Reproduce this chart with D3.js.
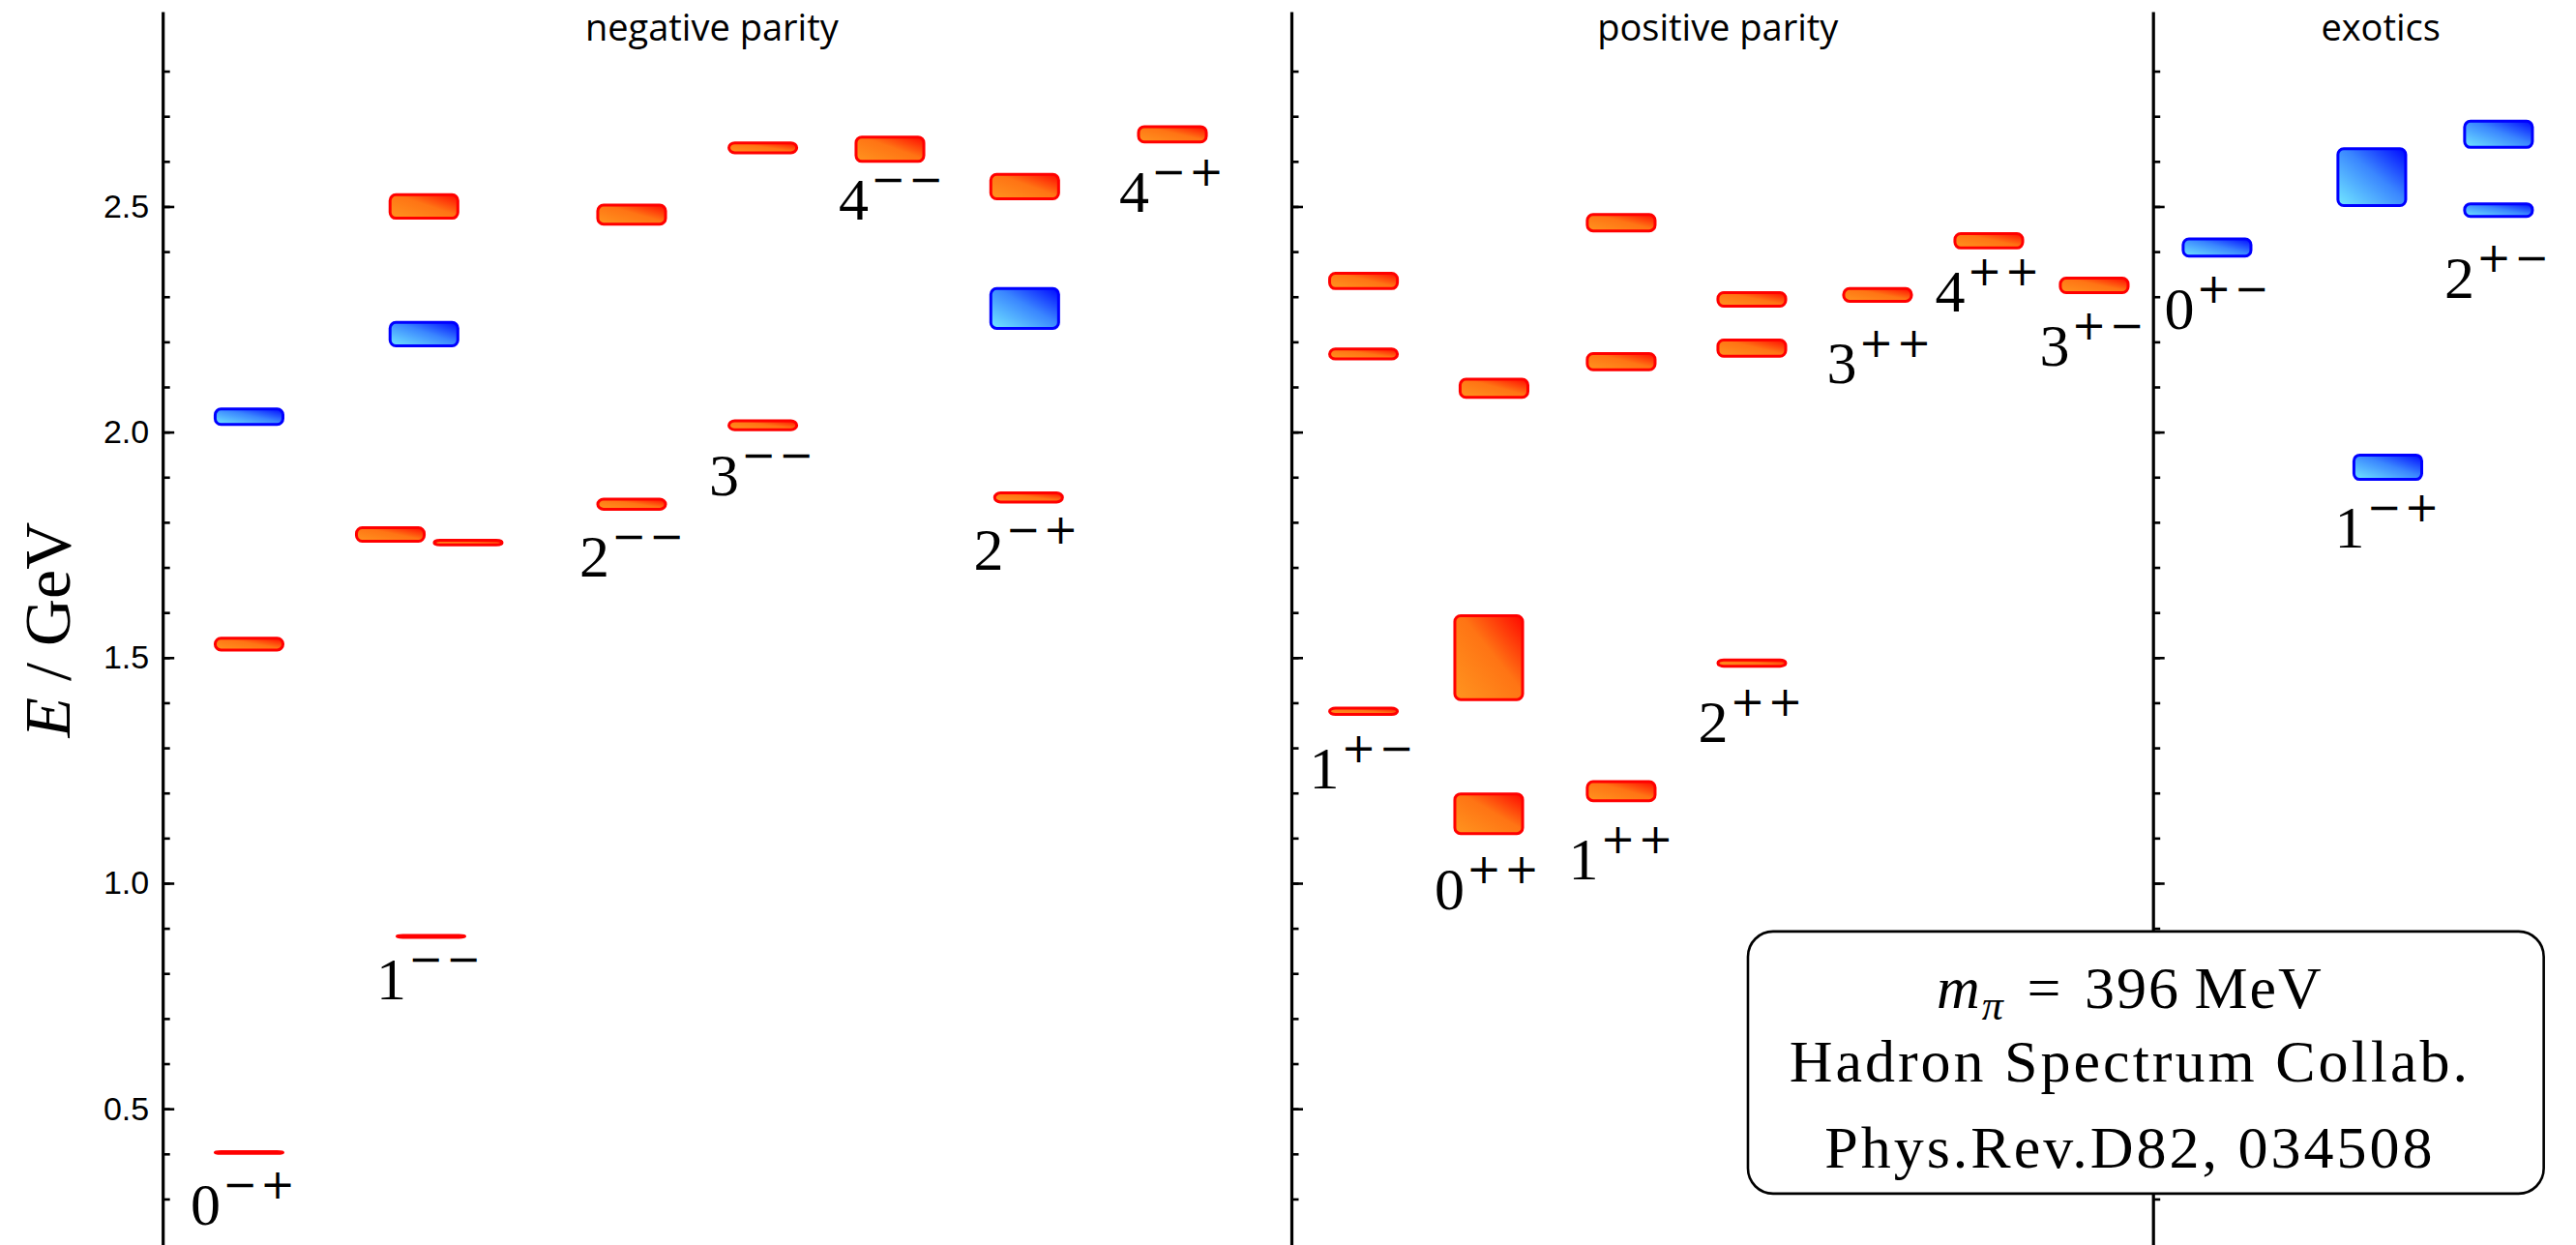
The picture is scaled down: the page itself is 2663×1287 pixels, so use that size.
<!DOCTYPE html>
<html>
<head>
<meta charset="utf-8">
<script src="https://cdn.jsdelivr.net/npm/d3@7"></script>
<style>
  body { margin: 0; background: #fff; }
</style>
</head>
<body>
<div id="chart"></div>
<script>
// panels
var panelTitles = ["negative parity", "positive parity", "exotics"];
var panelTitleX = [8.1, 22.94, 32.72];
var panelAxisX = [0, 16.65, 29.36];

// J^PC column labels
var jpcNames = ["0-+", "1--", "2--", "3--", "4--", "2-+", "4-+",
                "1+-", "0++", "1++", "2++", "3++", "4++", "3+-",
                "0+-", "1-+", "2+-"];
var jpcLabelX = [1.203, 3.943, 6.939, 8.851, 10.763, 12.754, 14.902,
                 17.706, 19.553, 21.530, 23.442, 25.340, 26.938, 28.479,
                 30.319, 32.831, 34.450];
var jpcLabelE = [0.244, 0.743, 1.680, 1.859, 2.471, 1.695, 2.489,
                 1.211, 0.943, 1.009, 1.314, 2.108, 2.268, 2.148,
                 2.229, 1.744, 2.297];

// levels: column position, energy (GeV), half error (GeV), kind (r = qq-like, b = hybrid-like)
var levelX = [1.274, 1.274, 1.274,
              3.957, 3.358, 4.506, 3.854, 3.854,
              6.918, 6.918,
              8.853, 8.853,
              10.728,
              12.773, 12.716, 12.716,
              14.895,
              17.714, 17.714, 17.714,
              19.561, 19.561, 19.639,
              21.515, 21.515, 21.515,
              23.442, 23.442, 23.442,
              25.297, 26.938, 28.493,
              30.305, 32.824, 32.588, 34.457, 34.457];
var levelE = [0.403, 1.530, 2.034,
              0.882, 1.773, 1.755, 2.217, 2.500,
              1.840, 2.482,
              2.015, 2.630,
              2.627,
              1.855, 2.274, 2.544,
              2.660,
              1.381, 2.173, 2.335,
              1.154, 1.500, 2.097,
              1.204, 2.156, 2.464,
              1.488, 2.186, 2.294,
              2.304, 2.424, 2.325,
              2.409, 1.922, 2.565, 2.492, 2.660];
var levelErr = [0.002, 0.013, 0.017,
                0.002, 0.015, 0.005, 0.026, 0.026,
                0.011, 0.021,
                0.010, 0.011,
                0.027,
                0.010, 0.044, 0.027,
                0.017,
                0.007, 0.011, 0.017,
                0.044, 0.093, 0.020,
                0.021, 0.018, 0.018,
                0.007, 0.018, 0.015,
                0.014, 0.016, 0.016,
                0.019, 0.027, 0.063, 0.014, 0.029];
var levelKind = ["r", "r", "b",
                 "r", "r", "r", "b", "r",
                 "r", "r",
                 "r", "r",
                 "r",
                 "r", "b", "r",
                 "r",
                 "r", "r", "r",
                 "r", "r", "r",
                 "r", "r", "r",
                 "r", "r", "r",
                 "r", "r", "r",
                 "b", "b", "b", "b", "b"];

var yMajor = [0.5, 1.0, 1.5, 2.0, 2.5];
var yMinor = d3.range(3, 29).map(function(d) { return d / 10; });

var infoLines = ["396", "Hadron Spectrum Collab.", "Phys.Rev.D82, 034508"];

var W = 2663, H = 1287;
var serif = "'Liberation Serif', 'Times New Roman', serif";

var svg = d3.select("#chart").append("svg")
    .attr("width", W)
    .attr("height", H)
    .style("background", "#fff");

var x = d3.scaleLinear().domain([-2.4, 35.6]).range([0, W]);
var y = d3.scaleLinear().domain([0.198, 2.932]).range([H, 12]);

// gradients
var defs = svg.append("defs");
function grad(id, c0, c1, c2) {
    var g = defs.append("linearGradient").attr("id", id)
        .attr("x1", 0).attr("y1", 1).attr("x2", 1).attr("y2", 0);
    g.append("stop").attr("offset", "0%").attr("stop-color", c0);
    g.append("stop").attr("offset", "55%").attr("stop-color", c1);
    g.append("stop").attr("offset", "100%").attr("stop-color", c2);
}
grad("gr", "#ff951f", "#ff7414", "#ff0800");
grad("gb", "#72e8ff", "#3a86ff", "#0008ff");

// axes, one per panel
panelAxisX.forEach(function(ax, i) {
    var g = svg.append("g").attr("transform", "translate(" + x(ax) + ",0)");
    g.call(d3.axisRight(y).tickValues(yMinor).tickSize(7.5).tickSizeOuter(0).tickFormat(""));
    g.append("g").call(d3.axisRight(y).tickValues(yMajor).tickSize(12).tickSizeOuter(0).tickFormat(""))
        .select(".domain").remove();
    g.selectAll(".domain").attr("stroke", "#000").attr("stroke-width", 3.2);
    g.selectAll(".tick line").attr("stroke", "#000").attr("stroke-width", 2.6);
    if (i == 0) {
        var lab = g.append("g").call(d3.axisLeft(y).tickValues(yMajor).tickSize(0).tickPadding(14)
            .tickFormat(d3.format(".1f")));
        lab.select(".domain").remove();
        lab.selectAll("text")
            .style("font-family", "'Liberation Sans', Arial, sans-serif")
            .style("font-size", "34px")
            .attr("fill", "#000");
    }
});

// panel titles
svg.selectAll(".ptitle").data(panelTitles).enter().append("text")
    .attr("class", "ptitle")
    .attr("x", function(d, i) { return x(panelTitleX[i]); })
    .attr("y", 42)
    .attr("text-anchor", "middle")
    .style("font-family", "'Open Sans', 'Noto Sans', sans-serif")
    .style("font-size", "38px")
    .text(function(d) { return d; });

// y axis title
var yt = svg.append("text")
    .attr("transform", "translate(72,651) rotate(-90)")
    .attr("text-anchor", "middle")
    .style("font-family", serif)
    .style("font-size", "68px");
yt.append("tspan").style("font-style", "italic").text("E");
yt.append("tspan").text(" / GeV");

// levels
var idx = d3.range(levelE.length);
svg.append("g").selectAll("rect").data(idx).enter().append("rect")
    .attr("x", function(i) { return x(levelX[i] - 0.5); })
    .attr("width", function(i) { return x(levelX[i] + 0.5) - x(levelX[i] - 0.5); })
    .attr("y", function(i) { return y(levelE[i] + levelErr[i]); })
    .attr("height", function(i) { return y(levelE[i] - levelErr[i]) - y(levelE[i] + levelErr[i]); })
    .attr("rx", 6)
    .attr("fill", function(i) { return levelKind[i] == "b" ? "url(#gb)" : "url(#gr)"; })
    .attr("stroke", function(i) { return levelKind[i] == "b" ? "#0000ff" : "#ff0000"; })
    .attr("stroke-width", 3);

// J^PC labels
var labs = svg.append("g").selectAll("text").data(jpcNames).enter().append("text")
    .attr("x", function(d, i) { return x(jpcLabelX[i]); })
    .attr("y", function(d, i) { return y(jpcLabelE[i]); })
    .attr("text-anchor", "middle")
    .style("font-family", serif)
    .style("font-size", "62px");
labs.append("tspan").text(function(d) { return d.charAt(0); });
labs.append("tspan")
    .attr("dy", -27)
    .attr("dx", 2)
    .style("font-family", "'DejaVu Serif', serif")
    .style("font-size", "43px")
    .style("font-weight", "300")
    .style("letter-spacing", "3px")
    .text(function(d) { return d.substring(1).replace(/-/g, "\u2212"); });

// info box
var bx0 = x(23.385), bx1 = x(35.124), by0 = y(0.893), by1 = y(0.312);
svg.append("rect")
    .attr("x", bx0).attr("y", by0)
    .attr("width", bx1 - bx0).attr("height", by1 - by0)
    .attr("rx", 26)
    .attr("fill", "#fff")
    .attr("stroke", "#000")
    .attr("stroke-width", 2.6);

var cx = x(29.02);
var t1 = svg.append("text")
    .attr("x", cx).attr("y", y(0.723))
    .attr("text-anchor", "middle")
    .style("font-family", serif)
    .style("font-size", "62px")
    .style("letter-spacing", "2px");
t1.append("tspan").style("font-style", "italic").text("m");
t1.append("tspan").attr("dy", 12).style("font-style", "italic").style("font-size", "44px").text("\u03c0");
t1.append("tspan").attr("dy", -12).text("\u2004=\u2004" + infoLines[0] + "\u2009MeV");

svg.append("text")
    .attr("x", cx).attr("y", y(0.560))
    .attr("text-anchor", "middle")
    .style("font-family", serif)
    .style("font-size", "62px")
    .style("letter-spacing", "3px")
    .text(infoLines[1]);

svg.append("text")
    .attr("x", cx).attr("y", y(0.370))
    .attr("text-anchor", "middle")
    .style("font-family", serif)
    .style("font-size", "62px")
    .style("letter-spacing", "3px")
    .text(infoLines[2]);
</script>
</body>
</html>
